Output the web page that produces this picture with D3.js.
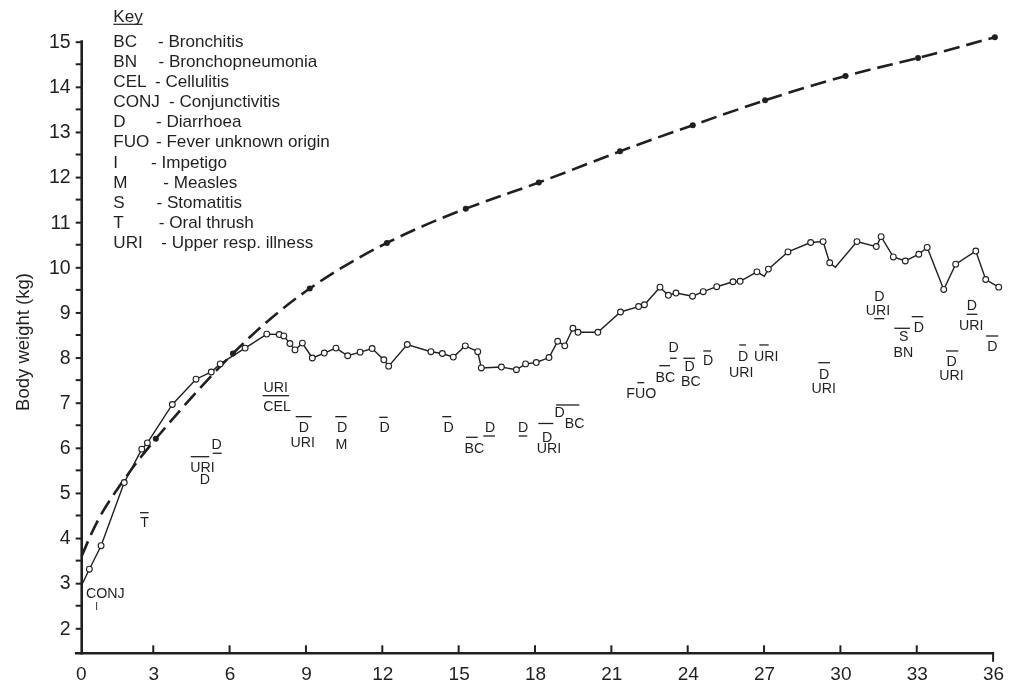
<!DOCTYPE html>
<html>
<head>
<meta charset="utf-8">
<script src="https://cdn.jsdelivr.net/npm/d3@7"></script>
<style>
  body { margin: 0; background: #fff; }
  svg { display: block; will-change: transform; }
  text { font-family: "Liberation Sans", Arial, Helvetica, sans-serif; fill: #231f20; }
</style>
</head>
<body>
<svg id="chart" width="1011" height="683"></svg>
<script>
// Weighings: age in months and body weight in kg
const visitAge = [0.19, 0.49, 0.95, 1.86, 2.55, 2.77, 3.75, 4.68, 5.28, 5.63, 6.61, 7.46, 7.95, 8.13, 8.37, 8.57,
  8.86, 9.25, 9.72, 10.18, 10.64, 11.13, 11.6, 12.06, 12.25, 12.98, 13.91, 14.36, 14.79, 15.26, 15.75, 15.89,
  16.68, 17.27, 17.63, 18.05, 18.55, 18.89, 19.17, 19.49, 19.69, 20.47, 21.36, 22.07, 22.3, 22.91, 23.24, 23.54,
  24.19, 24.61, 25.14, 25.78, 26.06, 26.72, 27.01, 27.17, 27.94, 28.83, 29.32, 29.58, 29.8, 30.65, 31.41, 31.6,
  32.08, 32.55, 33.08, 33.41, 34.06, 34.53, 35.32, 35.71, 36.22];
const visitWeight = [2.96, 3.31, 3.83, 5.23, 5.97, 6.11, 6.96, 7.52, 7.68, 7.86, 8.21, 8.52, 8.51, 8.48, 8.31, 8.17,
  8.32, 7.99, 8.10, 8.21, 8.04, 8.12, 8.20, 7.95, 7.81, 8.29, 8.13, 8.09, 8.01, 8.26, 8.13, 7.77,
  7.79, 7.73, 7.86, 7.89, 8.00, 8.36, 8.26, 8.65, 8.56, 8.56, 9.01, 9.13, 9.17, 9.56, 9.38, 9.43,
  9.36, 9.46, 9.57, 9.68, 9.69, 9.90, 9.80, 9.96, 10.34, 10.55, 10.57, 10.10, 10.00, 10.57, 10.46, 10.68,
  10.23, 10.14, 10.29, 10.44, 9.51, 10.07, 10.36, 9.73, 9.56];
// Points where the line bends without a plotted circle
const unmarkedAge = [0.19, 27.01, 29.8];

// Reference growth curve (kg); dots are drawn from 3 months onward
const refAge = [0.19, 0.9, 1.8, 3.1, 6.13, 9.15, 12.18, 15.28, 18.15, 21.34, 24.2, 27.04, 30.2, 33.05, 36.07];
const refWeight = [3.6, 4.47, 5.25, 6.2, 8.09, 9.53, 10.54, 11.3, 11.88, 12.57, 13.15, 13.7, 14.24, 14.64, 15.1];

// Illness episodes written under the growth line
const illnessCode = ["CONJ", "I", "T", "D", "URI", "D", "URI", "CEL", "D", "URI", "D", "M", "D", "D", "D", "BC",
  "D", "D", "URI", "D", "BC", "FUO", "BC", "D", "D", "BC", "D", "D", "URI", "URI", "D", "URI", "D", "URI",
  "S", "BN", "D", "D", "URI", "D", "D", "URI"];
const illnessAge = [1.12, 0.78, 2.66, 5.49, 4.935, 5.033, 7.815, 7.862, 8.923, 8.876, 10.417, 10.397, 12.094,
  14.609, 16.232, 15.615, 17.529, 18.472, 18.55, 18.97, 19.56, 22.177, 23.12, 23.45, 24.078, 24.122, 24.798,
  26.173, 27.085, 26.1, 29.363, 29.348, 31.53, 31.478, 32.487, 32.472, 33.088, 35.17, 35.14, 35.968, 34.373, 34.365];
const illnessKg = [2.665, 2.41, 4.238, 5.974, 5.457, 5.19, 7.244, 6.816, 6.344, 6.025, 6.344, 5.974, 6.344,
  6.344, 6.344, 5.879, 6.344, 6.123, 5.89, 6.69, 6.433, 7.098, 7.466, 8.13, 7.703, 7.37, 7.836,
  7.931, 7.931, 7.576, 7.525, 7.208, 9.254, 8.944, 8.367, 8.006, 8.56, 9.054, 8.611, 8.153, 7.82, 7.503];
// Episode duration bars: start age, end age, level (kg)
const barStart = [2.48, 5.336, 4.472, 7.30, 8.597, 10.153, 11.882, 14.357, 15.969, 15.289, 17.36, 18.13, 18.826,
  22.02, 22.884, 23.305, 23.827, 24.613, 26.028, 26.813, 29.131, 31.332, 32.118, 32.801, 34.962, 35.72, 34.15];
const barEnd = [2.82, 5.69, 5.202, 8.334, 9.226, 10.6, 12.212, 14.711, 16.428, 15.749, 17.698, 18.72, 19.741,
  22.295, 23.304, 23.568, 24.287, 24.916, 26.291, 27.183, 29.591, 31.725, 32.735, 33.257, 35.379, 36.204, 34.633];
const barKg = [4.562, 5.879, 5.803, 7.155, 6.69, 6.69, 6.676, 6.69, 6.262, 6.233, 6.262, 6.539, 6.949,
  7.443, 7.82, 7.984, 7.984, 8.146, 8.279, 8.279, 7.886, 8.862, 8.649, 8.906, 8.959, 8.478, 8.146];

// Key
const keyCode = ["BC", "BN", "CEL", "CONJ", "D", "FUO", "I", "M", "S", "T", "URI"];
const keyName = ["Bronchitis", "Bronchopneumonia", "Cellulitis", "Conjunctivitis", "Diarrhoea",
  "Fever unknown origin", "Impetigo", "Measles", "Stomatitis", "Oral thrush", "Upper resp. illness"];

// Axis ticks
const xTickValues = [0, 3, 6, 9, 12, 15, 18, 21, 24, 27, 30, 33, 36];
const yTickValues = [2, 3, 4, 5, 6, 7, 8, 9, 10, 11, 12, 13, 14, 15];
const yMinorTickValues = [2.5, 3.5, 4.5, 5.5, 6.5, 7.5, 8.5, 9.5, 10.5, 11.5, 12.5, 13.5, 14.5];
const yTitle = "Body weight (kg)";

const ink = "#231f20";
const fontStack = '"Liberation Sans", Arial, Helvetica, sans-serif';
const svg = d3.select("#chart");

const x = d3.scaleLinear().domain([0, 36]).range([76.9, 993.1]);
const y = d3.scaleLinear().domain([2, 15]).range([628.3, 41.7]);

const axisX = x(0) + 4.8;        // vertical axis sits at the birth weighing
const axisY = y(1.446);          // horizontal axis level

// ---- axes ----
const yAxis = svg.append("g")
  .attr("transform", `translate(${axisX},0)`)
  .call(d3.axisLeft(y).tickValues(yTickValues).tickSize(6).tickPadding(5));
yAxis.select(".domain").remove();
yAxis.selectAll(".tick line").attr("stroke", ink).attr("stroke-width", 2);
yAxis.selectAll(".tick text")
  .attr("dy", null).attr("y", 5.8)
  .style("font-size", "19.5px").style("font-family", fontStack).attr("fill", ink);
svg.append("g").selectAll("line").data(yMinorTickValues).join("line")
  .attr("x1", axisX - 6).attr("x2", axisX)
  .attr("y1", d => y(d)).attr("y2", d => y(d))
  .attr("stroke", ink).attr("stroke-width", 2);
svg.append("line")
  .attr("x1", axisX).attr("x2", axisX)
  .attr("y1", y(15) - 1.5).attr("y2", axisY + 1.2)
  .attr("stroke", ink).attr("stroke-width", 2.6);

const xAxis = svg.append("g")
  .attr("transform", `translate(0,${axisY})`)
  .call(d3.axisBottom(x).tickValues(xTickValues).tickSize(0).tickPadding(0));
xAxis.select(".domain").remove();
xAxis.selectAll(".tick line").remove();
xAxis.selectAll(".tick text")
  .attr("dy", null).attr("y", 26.6)
  .attr("dx", d => d === 0 ? 3.8 : 0)
  .style("font-size", "19px").style("font-family", fontStack).attr("fill", ink);
// tick marks rise inside the plot; the last one drops below the axis
svg.append("g").selectAll("line").data(xTickValues.filter(d => d > 0)).join("line")
  .attr("x1", d => x(d)).attr("x2", d => x(d))
  .attr("y1", axisY).attr("y2", d => d === 36 ? axisY + 8.5 : axisY - 8)
  .attr("stroke", ink).attr("stroke-width", 2);
svg.append("line")
  .attr("x1", x(0) - 2).attr("x2", x(36) + 1)
  .attr("y1", axisY).attr("y2", axisY)
  .attr("stroke", ink).attr("stroke-width", 2.6);

// y title
svg.append("text")
  .attr("transform", `translate(28.5,342) rotate(-90)`)
  .attr("text-anchor", "middle")
  .style("font-size", "18.5px")
  .text(yTitle);

// ---- reference curve ----
const refLine = d3.line().x((d, i) => x(refAge[i])).y(d => y(d)).curve(d3.curveNatural);
svg.append("path")
  .attr("d", refLine(refWeight))
  .attr("fill", "none").attr("stroke", ink).attr("stroke-width", 2.6)
  .attr("stroke-dasharray", "16,7");
svg.append("g").selectAll("circle")
  .data(refWeight.map((w, i) => [refAge[i], w]).filter(d => d[0] >= 3))
  .join("circle")
  .attr("cx", d => x(d[0])).attr("cy", d => y(d[1])).attr("r", 3)
  .attr("fill", ink);

// ---- child's growth line ----
const visits = visitWeight.map((w, i) => [visitAge[i], w]);
svg.append("path")
  .attr("d", d3.line().x(d => x(d[0])).y(d => y(d[1]))(visits))
  .attr("fill", "none").attr("stroke", ink).attr("stroke-width", 1.4);
svg.append("g").selectAll("circle")
  .data(visits.filter(d => !unmarkedAge.includes(d[0])))
  .join("circle")
  .attr("cx", d => x(d[0])).attr("cy", d => y(d[1])).attr("r", 2.9)
  .attr("fill", "#fff").attr("stroke", ink).attr("stroke-width", 1.1);

// ---- illness episode labels ----
svg.append("g").selectAll("text")
  .data(illnessCode.map((c, i) => [c, illnessAge[i], illnessKg[i]]))
  .join("text")
  .attr("x", d => x(d[1])).attr("y", d => y(d[2]))
  .attr("text-anchor", "middle")
  .style("font-size", d => d[0] === "I" ? "10px" : "14.2px")
  .text(d => d[0]);
svg.append("g").selectAll("line")
  .data(barKg.map((k, i) => [barStart[i], barEnd[i], k]))
  .join("line")
  .attr("x1", d => x(d[0])).attr("x2", d => x(d[1]))
  .attr("y1", d => y(d[2])).attr("y2", d => y(d[2]))
  .attr("stroke", ink).attr("stroke-width", 1.3);

// ---- key (set slightly wide, as printed) ----
const keyX = 113.3, keyStretch = 1.07, keyFont = "16px";
const keyDescX = [158, 158.5, 155, 169, 156, 156, 151, 163.3, 156.5, 158.8, 161.2];
const key = svg.append("g").attr("transform", `translate(${keyX},0) scale(${keyStretch},1)`);
const keyTitle = key.append("text").attr("x", 0).attr("y", 21.7)
  .style("font-size", keyFont).text("Key");
const kw = keyTitle.node().getComputedTextLength();
key.append("line").attr("x1", 0).attr("x2", kw)
  .attr("y1", 24.3).attr("y2", 24.3).attr("stroke", ink).attr("stroke-width", 1.2);
keyCode.forEach((c, i) => {
  const by = 47 + i * 20.1;
  key.append("text").attr("x", 0).attr("y", by).style("font-size", keyFont).text(c);
  key.append("text").attr("x", (keyDescX[i] - keyX) / keyStretch).attr("y", by)
    .style("font-size", keyFont).text("- " + keyName[i]);
});
</script>
</body>
</html>
